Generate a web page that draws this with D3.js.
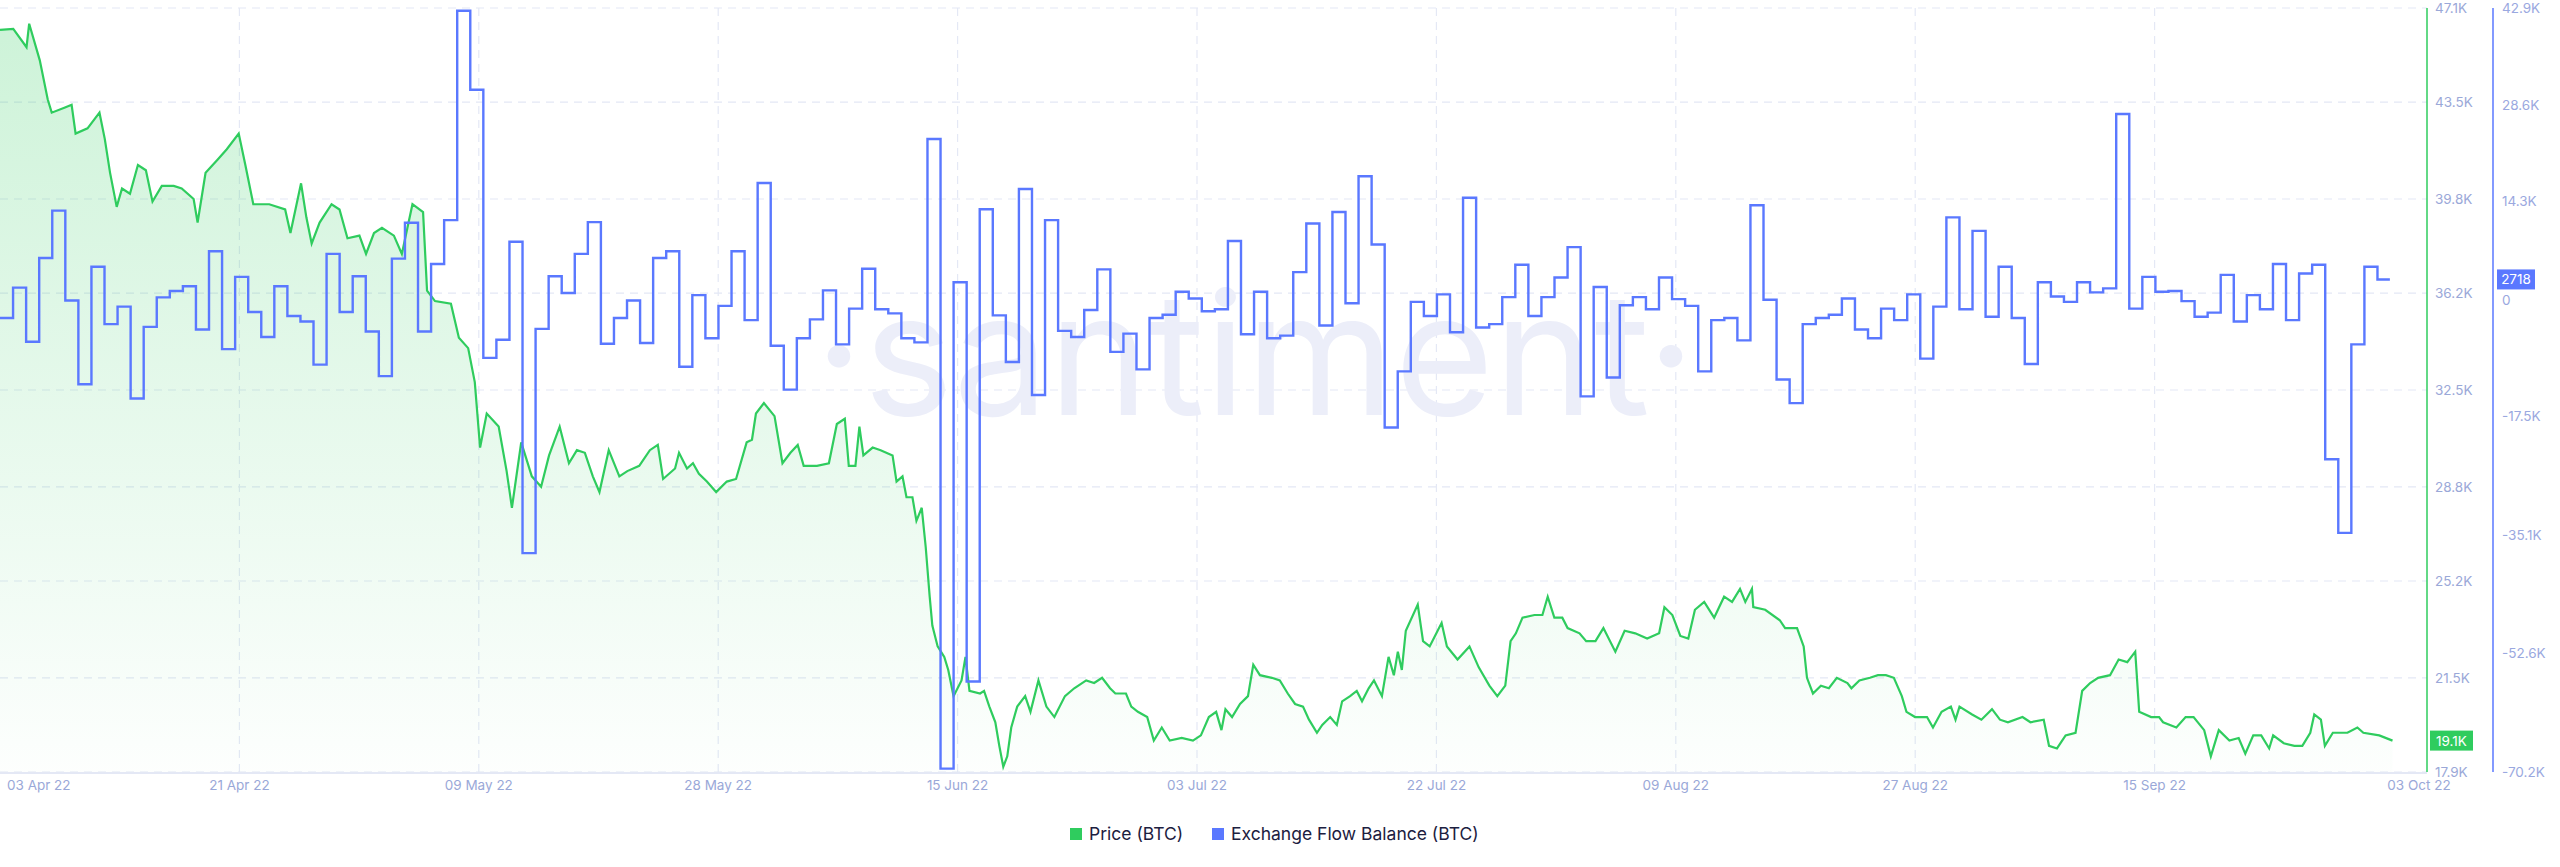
<!DOCTYPE html>
<html><head><meta charset="utf-8">
<script src="https://cdn.jsdelivr.net/npm/d3@7"></script>
<style>html,body{margin:0;padding:0;background:#fff;overflow:hidden}text{font-family:Inter,"Open Sans","DejaVu Sans",sans-serif}</style>
</head><body><svg id="c" width="2560" height="867"></svg>
<script>
const startDate = new Date(2022, 3, 3);
const endDate = new Date(2022, 9, 5, 19);
const xTickLabels = ["03 Apr 22","21 Apr 22","09 May 22","28 May 22","15 Jun 22","03 Jul 22","22 Jul 22","09 Aug 22","27 Aug 22","15 Sep 22","03 Oct 22"];
const priceTicks = [47.1,43.5,39.8,36.2,32.5,28.8,25.2,21.5,17.9];
const flowTicks = [42.9,28.6,14.3,0,-17.5,-35.1,-52.6,-70.2];
// price (thousand USD): day offsets (chart-day units) and values
const priceDays = [0,1.0,2.0,2.2,3.0,3.6,3.9,4.9,5.4,5.7,6.6,7.5,7.9,8.3,8.8,9.2,9.8,10.4,11.0,11.5,12.2,13.1,13.7,14.6,14.9,15.5,16.4,17.1,18.0,18.5,19.1,20.3,21.5,21.9,22.7,23.1,23.5,24.1,25.0,25.6,26.2,27.1,27.6,28.2,28.8,29.7,30.3,31.1,31.9,32.2,32.8,34.0,34.6,35.3,35.8,36.2,36.7,37.6,38.2,38.6,39.3,40.1,40.8,41.4,42.2,42.9,43.5,44.1,44.7,45.2,45.9,
46.7,47.3,48.2,49.0,49.6,50.0,50.9,51.2,51.8,52.25,52.7,53.3,54.0,54.8,55.5,56.3,56.7,57.0,57.6,58.4,59.0,59.6,60.15,60.6,61.6,62.5,63.1,63.7,64.0,64.5,64.8,65.1,65.8,66.4,67.3,67.6,68.05,68.35,68.8,69.1,69.5,69.8,70.1,70.3,70.7,71.2,71.5,71.9,72.5,72.8,73.1,73.9,74.2,74.6,75.05,75.35,75.65,75.95,76.25,76.7,77.3,77.7,78.3,78.9,79.5,80.3,81.0,81.9,82.5,83.1,83.7,84.1,84.9,85.3,85.8,86.5,87.0,87.6,88.2,89.1,89.95,90.55,91.15,
91.7,92.1,92.4,92.9,93.5,94.1,94.5,95.0,95.9,96.5,97.1,97.65,98.25,98.7,99.3,99.7,100.3,100.8,101.2,101.8,102.3,102.7,103.2,103.6,104.2,104.7,105.1,105.4,105.7,106.0,106.9,107.3,107.8,108.2,108.7,109.1,109.9,110.8,111.5,112.3,112.9,113.5,113.9,114.3,114.8,115.7,116.3,116.7,117.2,117.8,118.2,119.1,119.6,120.3,120.9,121.8,122.5,123.3,124.2,125.1,125.5,126.1,126.7,127.3,127.8,128.5,129.25,130.0,130.6,131.2,131.6,132.1,132.2,133.1,134.2,134.6,135.5,136.0,136.25,136.7,
137.3,137.9,138.5,139.3,139.6,140.2,141.0,141.6,142.2,142.8,143.4,143.75,144.4,145.3,145.75,146.4,147.1,147.45,147.75,148.7,149.4,150.2,150.8,151.4,152.5,153.1,154.1,154.5,155.1,155.75,156.5,157.0,157.6,158.2,159.1,159.75,160.4,161.0,161.3,162.2,162.8,163.1,164.1,164.8,165.4,166.2,166.7,167.3,168.1,168.8,169.3,169.9,170.5,171.1,171.4,172.2,173.0,173.6,174.2,174.5,175.0,175.3,175.9,177.0,177.75,178.2,179.4,180.4];
const priceValues = [46.26,46.3,45.6,46.5,45.1,43.6,43.1,43.3,43.4,42.3,42.5,43.1,42.1,40.8,39.5,40.2,40.0,41.1,40.9,39.7,40.3,40.3,40.2,39.8,38.9,40.8,41.3,41.7,42.3,41.1,39.6,39.6,39.4,38.5,40.4,39.1,38.1,38.9,39.6,39.4,38.3,38.4,37.7,38.5,38.7,38.4,37.7,39.6,39.3,36.3,35.9,35.8,34.5,34.1,32.8,30.3,31.6,31.1,29.4,28.0,30.5,29.2,28.8,30.0,31.1,29.7,30.2,30.1,29.2,28.6,30.2,
29.2,29.4,29.6,30.2,30.4,29.1,29.5,30.1,29.5,29.7,29.3,29.0,28.6,29.0,29.1,30.5,30.6,31.6,32.0,31.5,29.7,30.1,30.4,29.6,29.6,29.7,31.2,31.4,29.6,29.6,31.1,30.0,30.3,30.2,30.0,29.0,29.2,28.4,28.4,27.5,28.0,26.5,24.6,23.5,22.7,22.3,21.8,20.8,21.4,22.3,21.0,20.9,21.0,20.4,19.8,18.9,18.1,18.5,19.6,20.4,20.8,20.2,21.4,20.4,20.0,20.8,21.1,21.4,21.3,21.5,21.1,20.9,20.9,20.4,20.2,20.0,19.1,19.6,19.1,19.2,19.1,19.3,20.0,
20.2,19.5,20.3,20.0,20.5,20.8,22.0,21.6,21.5,21.4,20.9,20.5,20.4,19.9,19.4,19.7,20.0,19.7,20.6,20.8,21.0,20.6,21.1,21.4,20.8,22.3,21.6,22.5,21.8,23.3,24.3,22.9,22.7,23.1,23.6,22.7,22.2,22.7,21.9,21.2,20.8,21.2,22.9,23.2,23.8,23.9,23.9,24.6,23.8,23.8,23.4,23.2,22.9,22.9,23.4,22.5,23.3,23.2,23.0,23.2,24.2,23.9,23.1,23.0,24.1,24.4,23.8,24.6,24.4,24.9,24.4,24.9,24.2,24.1,23.7,23.4,23.4,22.7,21.5,20.9,
21.2,21.1,21.5,21.3,21.1,21.4,21.5,21.6,21.6,21.5,20.8,20.2,20.0,20.0,19.6,20.2,20.4,19.9,20.4,20.1,19.9,20.3,19.9,19.8,20.0,19.8,19.9,18.9,18.8,19.3,19.4,21.0,21.3,21.5,21.6,22.2,22.1,22.5,20.2,20.0,20.0,19.8,19.6,20.0,20.0,19.5,18.5,19.5,19.1,19.2,18.6,19.3,19.3,18.8,19.3,19.0,18.9,18.9,19.4,20.1,19.9,18.9,19.4,19.4,19.6,19.4,19.3,19.1];
// exchange flow balance (thousand BTC), one value per day from 03 Apr 22
const flowValues = [-3.0,1.5,-6.5,5.9,12.9,-0.4,-12.8,4.6,-3.9,-1.3,-14.9,-4.3,0.06,1.0,1.7,-4.7,6.9,-7.6,3.1,-2.1,-5.8,1.7,-2.7,-3.5,-9.9,6.5,-2.1,3.2,-5.0,-11.6,5.8,11.1,-5.0,5.0,11.5,42.5,30.8,-8.9,-6.2,8.3,-37.8,-4.6,3.2,0.7,6.5,11.2,-6.8,
-3.0,-0.4,-6.7,5.9,6.9,-10.2,0.4,-6.0,-1.2,6.9,-3.3,17.0,-7.1,-13.6,-6.0,-3.2,1.1,-6.9,-1.6,4.3,-1.7,-2.3,-6.0,-6.6,23.5,-69.7,2.3,-56.8,13.1,-2.6,-9.5,16.1,-14.4,11.5,-4.9,-5.8,-1.8,4.2,-8.0,-5.3,-10.6,-3.0,-2.5,0.9,-0.1,-2.0,
-1.7,8.4,-5.4,0.9,-6.0,-5.6,3.8,11.0,-4.1,12.7,-0.8,18.0,7.9,-19.2,-10.9,-0.6,-2.7,0.5,-5.1,14.8,-4.4,-3.9,0.1,4.9,-2.7,0.1,3.0,7.5,-14.6,1.6,-11.8,-1.1,0.1,-1.7,3.0,-0.2,-1.2,-10.9,-3.3,-3.0,-6.3,13.7,-0.3,-12.1,-15.6,
-3.9,-3.0,-2.5,-0.1,-4.7,-6.0,-1.6,-3.3,0.5,-9.0,-1.3,11.9,-1.7,9.9,-2.8,4.6,-3.0,-9.8,2.3,0.2,-0.6,2.3,0.8,1.4,27.2,-1.6,3.1,0.9,1.0,-0.5,-2.8,-2.2,3.4,-3.5,0.4,-1.7,5.0,-3.3,3.6,4.9,-23.9,-34.8,-6.9,4.6,2.718];
const lastPrice = "19.1K", lastFlow = "2718";

const svg = d3.select("#c");
const L = 0, R = 2427, T = 8, B = 772;
const x = d3.scaleTime().domain([startDate, endDate]).range([L, R]);
const yP = d3.scaleLinear().domain([17.9, 47.1]).range([B, T]);
const yF = d3.scaleLinear().domain([-70.2, 42.9]).range([B, T]);
const dayMs = 864e5;
const chartDay = (R - L) / 183.0;
const priceData = priceDays.map((d, i) => ({ t: x.invert(L + d * chartDay), v: priceValues[i] }));
const flowData = flowValues.map((v, i) => ({ t: new Date(startDate.getTime() + i * dayMs), v }));
flowData.push({ t: new Date(flowData[flowData.length - 1].t.getTime() + dayMs * 0.95), v: flowValues[flowValues.length - 1] });

const tickDates = xTickLabels.map((l, i) => x.invert(L + i * 239.4));
const grid = svg.append("g").attr("stroke", "#e4e8f5").attr("stroke-width", 1.2).attr("stroke-dasharray", "8,6");
grid.selectAll(".h").data(priceTicks).join("line").attr("x1", L).attr("x2", R).attr("y1", d => yP(d)).attr("y2", d => yP(d));
grid.selectAll(".v").data(tickDates.slice(1, 10)).join("line").attr("y1", T).attr("y2", B).attr("x1", d => x(d)).attr("x2", d => x(d));
svg.append("line").attr("x1", L).attr("x2", R).attr("y1", B + 1).attr("y2", B + 1).attr("stroke", "#e4e8f5").attr("stroke-width", 2);

svg.append("text").attr("x", 1255).attr("y", 415).attr("text-anchor", "middle").attr("font-size", 170).attr("fill", "#eceef9").attr("font-family", "Lato, 'Open Sans', sans-serif").text("·santiment·");

const defs = svg.append("defs");
const gr = defs.append("linearGradient").attr("id", "g").attr("x1", 0).attr("x2", 0).attr("y1", 0).attr("y2", 1);
gr.append("stop").attr("offset", "0%").attr("stop-color", "#2fcc5e").attr("stop-opacity", 0.24);
gr.append("stop").attr("offset", "100%").attr("stop-color", "#2fcc5e").attr("stop-opacity", 0.01);
svg.append("path").datum(priceData).attr("fill", "url(#g)")
  .attr("d", d3.area().x(d => x(d.t)).y0(B).y1(d => yP(d.v)));
svg.append("path").datum(priceData).attr("fill", "none").attr("stroke", "#2fcc5e").attr("stroke-width", 2.2)
  .attr("d", d3.line().x(d => x(d.t)).y(d => yP(d.v)));
svg.append("path").datum(flowData).attr("fill", "none").attr("stroke", "#5a78ff").attr("stroke-width", 2.4)
  .attr("d", d3.line().curve(d3.curveStepAfter).x(d => x(d.t)).y(d => yF(d.v)));

svg.append("line").attr("x1", R).attr("x2", R).attr("y1", T).attr("y2", B).attr("stroke", "#2fcc5e").attr("stroke-width", 1.5);
svg.append("line").attr("x1", 2493).attr("x2", 2493).attr("y1", T).attr("y2", B).attr("stroke", "#5a78ff").attr("stroke-width", 1.5);
svg.append("g").selectAll("text").data(priceTicks).join("text").attr("x", 2435).attr("y", d => yP(d) + 5)
  .attr("font-size", 13.5).attr("fill", "#9aa8d8").text(d => d.toFixed(1) + "K");
svg.append("g").selectAll("text").data(flowTicks).join("text").attr("x", 2502).attr("y", d => yF(d) + 5 + (d === 0 ? 2 : 0))
  .attr("font-size", 13.5).attr("fill", "#9aa8e0").text(d => d === 0 ? "0" : d.toFixed(1) + "K");
svg.append("g").selectAll("text").data(tickDates).join("text")
  .attr("x", (d, i) => x(d) + (i === 0 ? 7 : i === 10 ? 25 : 0)).attr("y", 790)
  .attr("text-anchor", (d, i) => i === 0 ? "start" : "middle")
  .attr("font-size", 13.5).attr("fill", "#9aa8d8").text((d, i) => xTickLabels[i]);

const pb = svg.append("g").attr("transform", `translate(2430,${yP(19.1)})`);
pb.append("rect").attr("x", 0).attr("y", -10).attr("width", 43).attr("height", 20).attr("fill", "#2fcc5e");
pb.append("text").attr("x", 21.5).attr("y", 5).attr("text-anchor", "middle").attr("font-size", 13.5).attr("fill", "#fff").text(lastPrice);
const fb = svg.append("g").attr("transform", `translate(2497,${yF(2.718)})`);
fb.append("rect").attr("x", 0).attr("y", -10).attr("width", 38).attr("height", 20).attr("fill", "#5a78ff");
fb.append("text").attr("x", 19).attr("y", 5).attr("text-anchor", "middle").attr("font-size", 13.5).attr("fill", "#fff").text(lastFlow);

const legend = [["Price (BTC)", "#2fcc5e", 1070], ["Exchange Flow Balance (BTC)", "#5a78ff", 1212]];
const lg = svg.append("g").selectAll("g").data(legend).join("g").attr("transform", d => `translate(${d[2]},834)`);
lg.append("rect").attr("x", 0).attr("y", -6).attr("width", 12).attr("height", 12).attr("fill", d => d[1]);
lg.append("text").attr("x", 19).attr("y", 6).attr("font-size", 17.5).attr("fill", "#1c2040").text(d => d[0]);
</script></body></html>
